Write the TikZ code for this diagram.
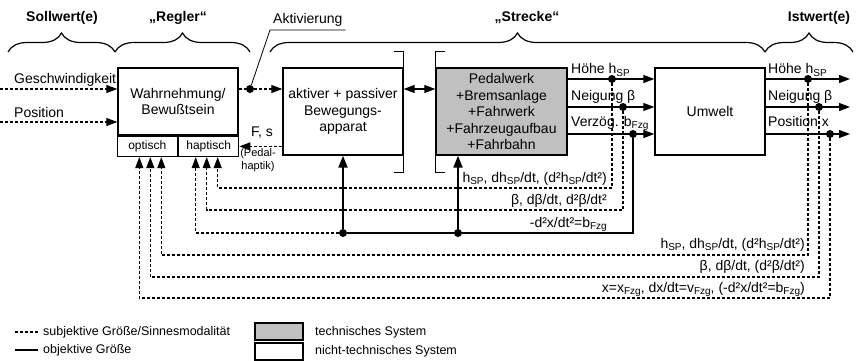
\documentclass[tikz,border=0pt]{standalone}
\usepackage{fontspec}
\setmainfont{Liberation Sans}
\usepackage{tikz}
\usetikzlibrary{calc,positioning,arrows.meta,decorations.pathreplacing}
\definecolor{colortech}{HTML}{C0C0C0}
\tikzset{
  tipa/.tip={Triangle[length=11pt,width=8pt]},
  tipb/.tip={Triangle[length=12pt,width=9pt]},
  edgesub/.style={black, line width=1.1pt, dash pattern=on 3pt off 2pt, -tipa},
  edgeobj/.style={black, line width=1.2pt, -tipa},
  edgethick/.style={black, line width=2pt, -tipb},
  edgetwo/.style={black, line width=1.2pt, tipa-tipa},
  edgethin/.style={black, line width=0.8pt},
  block/.style={draw, line width=1.4pt, align=center, inner sep=2pt, minimum height=87pt},
  cell/.style={draw, line width=1.4pt, minimum width=60pt, minimum height=20pt, inner sep=0pt,
    font=\fontsize{12}{14}\selectfont},
  dot/.style={circle, fill=black, inner sep=0pt, minimum size=8pt},
  head/.style={font=\fontsize{14}{16.5}\selectfont\bfseries},
  lab/.style={font=\fontsize{14}{16.5}\selectfont, inner sep=0pt},
  labsmall/.style={font=\fontsize{11}{13.5}\selectfont, inner sep=0pt, align=center},
  leg/.style={font=\fontsize{12.5}{14}\selectfont, inner sep=0pt},
  legbox/.style={draw, line width=1.3pt, minimum width=48pt, minimum height=17pt, inner sep=0pt},
  brace/.style={decorate, decoration={brace, amplitude=19pt}, line width=1.2pt}
}
\newcommand\idx[1]{\raisebox{-.35ex}{\fontsize{10}{10}\selectfont #1}}

\begin{document}
\begin{tikzpicture}[x=1pt, y=-1pt, font=\fontsize{14}{16.5}\selectfont]
\useasboundingbox (0,0) rectangle (856,361);

\node[head] (soll) at (62,18) {Sollwert(e)};
\node[head] (regl) at (178,18) {„Regler“};
\node[head] (strk) at (527,18) {„Strecke“};
\node[head] (ist) at (819,18) {Istwert(e)};
\draw[brace] (8,52) -- (115,52);
\draw[brace] (115,52) -- (250,52);
\draw[brace] (270,52) -- (765,52);
\draw[brace] (765,52) -- (853,52);

\node[block, minimum width=120pt, minimum height=67pt] (wahr) at (178,101.5) {Wahrnehmung/\\Bewußtsein};
\node[cell, anchor=north east] (opt) at (wahr.south) {optisch};
\node[cell, anchor=north west] (hapt) at (wahr.south) {haptisch};
\node[block, minimum width=120pt] (akt) at (343,111.5) {aktiver + passiver\\Bewegungs-\\apparat};
\node[block, fill=colortech, minimum width=131pt] (str) at (501.5,111.5)
  {Pedalwerk\\+Bremsanlage\\+Fahrwerk\\+Fahrzeugaufbau\\+Fahrbahn};
\node[block, minimum width=110pt] (umw) at (710,111.5) {Umwelt};

\draw[edgethin] ($(akt.north east)+(-10,-16)$) -- ++(10,0) -- ($(akt.south east)+(0,17)$) -- ++(-10,0);
\draw[edgethin] ($(str.north west)+(10,-16)$) -- ++(-10,0) -- ($(str.south west)+(0,17)$) -- ++(10,0);

\coordinate (in1) at (0,89);
\coordinate (in2) at (0,122);
\draw[edgesub] (in1) -- (in1 -| wahr.west);
\draw[edgesub] (in2) -- (in2 -| wahr.west);
\node[lab, anchor=base west] (lgesch) at (14,83) {Geschwindigkeit};
\node[lab, anchor=base west] (lpos) at (14,117) {Position};

\node[dot] (dA) at (250,89) {};
\node[lab, anchor=south west, inner xsep=3pt, inner ysep=3pt] (aktv) at (270,30) {Aktivierung};
\draw[edgesub] (dA -| wahr.east) -- (dA -| akt.west);
\draw[edgethin] (dA) -- (aktv.south west) -- (aktv.south east);
\draw[edgetwo] (dA -| akt.east) -- (dA -| str.west);

\draw[edgesub] (akt.west |- hapt.east) -- (hapt.east);
\node[lab] (lfs) at (262,133) {F, s};
\node[labsmall] (lpedal) at (258,160) {(Pedal-\\haptik)};

\node[dot] (s1) at (612,79) {};
\node[dot] (s2) at (623,107) {};
\node[dot] (s3) at (633,134) {};
\node[dot] (i1) at (808,79) {};
\node[dot] (i2) at (819,107) {};
\node[dot] (i3) at (830,134) {};
\coordinate (e1) at (850,79);
\coordinate (e2) at (850,107);
\coordinate (e3) at (850,134);
\foreach \n in {1,2,3} {
  \draw[edgeobj] (s\n -| str.east) -- (s\n -| umw.west);
  \draw[edgeobj] (i\n -| umw.east) -- (e\n);
}
\node[lab, anchor=base west] (lh1) at (571,73.5) {Höhe h\idx{SP}};
\node[lab, anchor=base west] (ln1) at (571,100.5) {Neigung β};
\node[lab, anchor=base west] (lv1) at (571,126) {Verzög. b\idx{Fzg}};
\node[lab, anchor=base west] (lh2) at (768,73.5) {Höhe h\idx{SP}};
\node[lab, anchor=base west] (ln2) at (768,100.5) {Neigung β};
\node[lab, anchor=base west] (lp2) at (768,126) {Position x};

\node[dot] (fb1) at (akt.south |- 0,233) {};
\node[dot] (fb2) at (458,233) {};
\draw[edgesub] (s1) -- (s1 |- 0,188) -| ([xshift=9pt]hapt.south);
\draw[edgesub] (s2) -- (s2 |- 0,210) -| ([xshift=-2pt]hapt.south);
\draw[edgeobj, -] (s3) -- (s3 |- 0,233) -- (fb2);
\draw[edgeobj, -] (fb2) -- (fb1);
\draw[edgesub] (fb1) -| ([xshift=-13pt]hapt.south);
\draw[edgethick] (fb1) -- (fb1 |- akt.south);
\draw[edgethick] (fb2) -- (fb2 |- str.south);
\draw[edgesub] (i1) -- (i1 |- 0,255) -| ([xshift=14pt]opt.south);
\draw[edgesub] (i2) -- (i2 |- 0,277) -| ([xshift=3pt]opt.south);
\draw[edgesub] (i3) -- (i3 |- 0,298) -| ([xshift=-8pt]opt.south);

\node[lab, anchor=base east] (lf1) at (607,182) {h\idx{SP}, dh\idx{SP}/dt, (d²h\idx{SP}/dt²)};
\node[lab, anchor=base east] (lf2) at (607,204) {β, dβ/dt, d²β/dt²};
\node[lab, anchor=base east] (lf3) at (607,227) {-d²x/dt²=b\idx{Fzg}};
\node[lab, anchor=base east] (lf4) at (805,248) {h\idx{SP}, dh\idx{SP}/dt, (d²h\idx{SP}/dt²)};
\node[lab, anchor=base east] (lf5) at (805,270) {β, dβ/dt, (d²β/dt²)};
\node[lab, anchor=base east] (lf6) at (805,292) {x=x\idx{Fzg}, dx/dt=v\idx{Fzg}, (-d²x/dt²=b\idx{Fzg})};

\node[leg, anchor=west] (leg1) at (43,332) {subjektive Größe/Sinnesmodalität};
\node[leg, anchor=west] (leg2) at (43,350) {objektive Größe};
\draw[edgesub, -] ([xshift=-28pt]leg1.west) -- ([xshift=-5pt]leg1.west);
\draw[edgeobj, -] ([xshift=-28pt]leg2.west) -- ([xshift=-5pt]leg2.west);
\node[legbox, fill=colortech] (legt) at (279,331.5) {};
\node[legbox] (legn) at (279,351.5) {};
\node[leg, anchor=west] (legtl) at (315,332) {technisches System};
\node[leg, anchor=west] (legnl) at (315,351) {nicht-technisches System};
\end{tikzpicture}
\end{document}
